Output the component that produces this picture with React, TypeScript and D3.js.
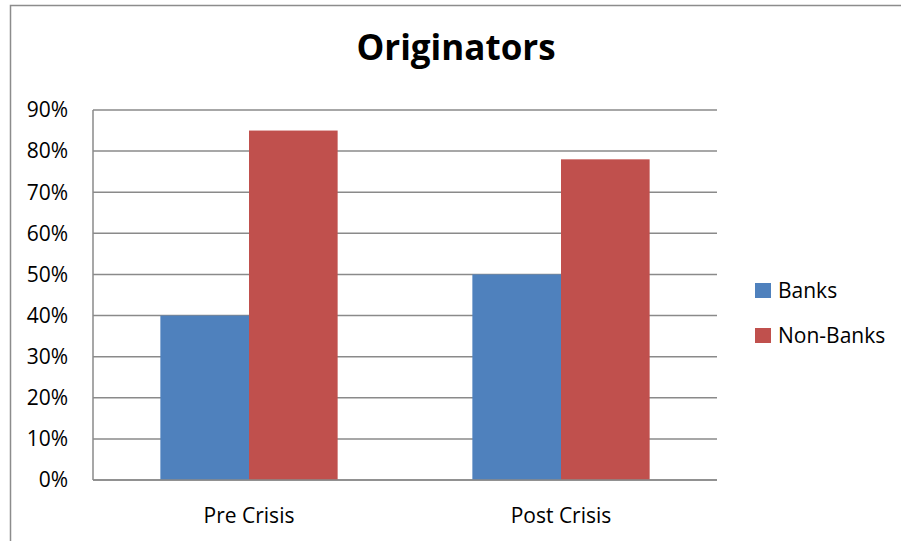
import { useEffect, useRef } from "react";
import * as d3 from "d3";

const categories = ["Pre Crisis", "Post Crisis"];
const seriesNames = ["Banks", "Non-Banks"];
const banks = [40, 50];
const nonBanks = [85, 78];
const yTicks = [0, 10, 20, 30, 40, 50, 60, 70, 80, 90];
const colors = ["#4f81bd", "#c0504d"];

const FONT = "'Open Sans', Lato, sans-serif";

export default function App() {
    const svgRef = useRef<SVGSVGElement>(null);

    useEffect(() => {
        if (!svgRef.current) return;
        const svg = d3.select(svgRef.current);
        svg.selectAll("*").remove();

        const W = 901, H = 541;
        const margin = { top: 110, right: 184, bottom: 61, left: 93 };
        const width = W - margin.left - margin.right;
        const height = H - margin.top - margin.bottom;

        svg.attr("width", W).attr("height", H);

        // outer chart frame (runs off the right and bottom edges)
        svg.append("rect")
            .attr("x", 10.5).attr("y", 5.5)
            .attr("width", W + 20).attr("height", H + 20)
            .attr("fill", "white")
            .attr("stroke", "#8c8c8c")
            .attr("stroke-width", 1.5);

        svg.append("text")
            .attr("x", 456).attr("y", 60)
            .attr("text-anchor", "middle")
            .attr("font-family", FONT)
            .attr("font-weight", "bold")
            .attr("font-size", "35px")
            .attr("fill", "#000")
            .text("Originators");

        const g = svg.append("g").attr("transform", `translate(${margin.left},${margin.top})`);

        const x0 = d3.scaleBand().domain(categories).range([0, width]).paddingInner(0).paddingOuter(0);
        const x1 = d3.scaleBand().domain(seriesNames).range([0, x0.bandwidth()]).paddingInner(0).paddingOuter(0.76);
        const y = d3.scaleLinear().domain([0, 90]).range([height, 0]);

        // gridlines
        g.selectAll(".grid")
            .data(yTicks)
            .enter().append("line")
            .attr("x1", 0).attr("x2", width)
            .attr("y1", d => y(d)).attr("y2", d => y(d))
            .attr("stroke", "#8a8a8a")
            .attr("stroke-width", 1.5);

        // y axis line
        g.append("line")
            .attr("x1", 0).attr("x2", 0)
            .attr("y1", 0).attr("y2", height)
            .attr("stroke", "#8a8a8a")
            .attr("stroke-width", 1.5);

        g.selectAll(".ylab")
            .data(yTicks)
            .enter().append("text")
            .attr("x", -25)
            .attr("y", d => y(d))
            .attr("dy", "0.35em")
            .attr("text-anchor", "end")
            .attr("font-family", FONT)
            .attr("font-size", "21px")
            .attr("fill", "#000")
            .text(d => `${d}%`);

        const values = [banks, nonBanks];
        seriesNames.forEach((s, si) => {
            g.selectAll(`.bar-${si}`)
                .data(categories)
                .enter().append("rect")
                .attr("x", c => x0(c)! + x1(s)!)
                .attr("y", (c, i) => y(values[si][i]))
                .attr("width", x1.bandwidth())
                .attr("height", (c, i) => height - y(values[si][i]))
                .attr("fill", colors[si]);
        });

        // redraw baseline on top of bars
        g.append("line")
            .attr("x1", 0).attr("x2", width)
            .attr("y1", height).attr("y2", height)
            .attr("stroke", "#8a8a8a")
            .attr("stroke-width", 1.5);

        g.selectAll(".xlab")
            .data(categories)
            .enter().append("text")
            .attr("x", c => x0(c)! + x0.bandwidth() / 2)
            .attr("y", height + 43)
            .attr("text-anchor", "middle")
            .attr("font-family", FONT)
            .attr("font-size", "21px")
            .attr("fill", "#000")
            .text(c => c);

        // legend
        const legend = svg.append("g").attr("transform", "translate(755,283)");
        seriesNames.forEach((s, i) => {
            legend.append("rect")
                .attr("x", 0).attr("y", i * 45)
                .attr("width", 16).attr("height", 15)
                .attr("fill", colors[i]);
            legend.append("text")
                .attr("x", 23).attr("y", i * 45 + 15)
                .attr("font-family", FONT)
                .attr("font-size", "21px")
                .attr("fill", "#000")
                .text(s);
        });
    }, []);

    return (
        <div style={{ position: "absolute", left: 0, top: 0 }}>
            <svg ref={svgRef} style={{ display: "block" }}></svg>
        </div>
    );
}
